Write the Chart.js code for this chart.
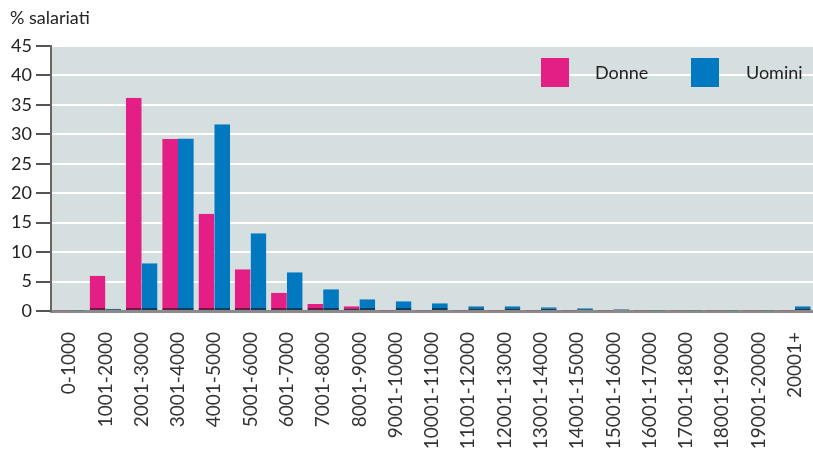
<!DOCTYPE html>
<html><head><meta charset="utf-8">
<script src="https://cdn.jsdelivr.net/npm/chart.js@4.4.1/dist/chart.umd.min.js"></script>
<style>html,body{margin:0;padding:0;background:#fff}#wrap{width:813px;height:450px;position:relative}</style>
</head><body><div id="wrap"><canvas id="c" width="813" height="450"></canvas></div>
<script>
const categories = ["0-1000","1001-2000","2001-3000","3001-4000","4001-5000","5001-6000","6001-7000","7001-8000","8001-9000","9001-10000","10001-11000","11001-12000","12001-13000","13001-14000","14001-15000","15001-16000","16001-17000","17001-18000","18001-19000","19001-20000","20001+"];
const donne  = [0.1, 6.0, 36.2, 29.2, 16.5, 7.1, 3.1, 1.2, 0.8, 0.1, 0.1, 0.1, 0.1, 0.1, 0.1, 0.1, 0.1, 0.1, 0.1, 0.1, 0.1];
const uomini = [0.1, 0.4, 8.1, 29.3, 31.7, 13.2, 6.6, 3.7, 2.0, 1.65, 1.3, 0.8, 0.8, 0.65, 0.45, 0.3, 0.1, 0.1, 0.1, 0.1, 0.8];
const yTicks = [0,5,10,15,20,25,30,35,40,45];
const seriesNames = ["Donne","Uomini"];
const colors = ["#e31f86","#0079c1"];
const baseColors = ["#6e1a45","#123c5c"];
const FONT = "Lato";

const bgPlugin = {
  id:'bg',
  beforeDraw(chart){
    const {ctx, chartArea:a} = chart;
    ctx.save(); ctx.fillStyle = '#d6dfdf';
    ctx.fillRect(a.left, a.top, a.right-a.left, a.bottom-a.top);
    ctx.restore();
  },
  afterDraw(chart){
    const {ctx, chartArea:a} = chart;
    ctx.save();
    ctx.fillStyle = '#222';
    ctx.font = `18px ${FONT}`;
    ctx.textBaseline = 'alphabetic';
    ctx.textAlign = 'left';
    ctx.fillText('% salariati', 10, 24);
    const items = [{x:a.left+490, tx:a.left+544},{x:a.left+640, tx:a.left+695}];
    chart.data.datasets.forEach((ds,i)=>{
      ctx.fillStyle = ds.backgroundColor;
      ctx.fillRect(items[i].x, a.top+12, 28, 29);
      ctx.fillStyle = '#222';
      ctx.fillText(ds.label, items[i].tx, a.top+33);
    });
    ctx.restore();
  }
};

new Chart(document.getElementById('c'), {
  type:'bar',
  data:{
    labels: categories,
    datasets:[
      {label:seriesNames[0], data:donne, backgroundColor:colors[0], borderColor:baseColors[0], borderWidth:{top:0,left:0,right:0,bottom:2}, borderSkipped:false, categoryPercentage:0.87, barPercentage:1.0},
      {label:seriesNames[1], data:uomini, backgroundColor:colors[1], borderColor:baseColors[1], borderWidth:{top:0,left:0,right:0,bottom:2}, borderSkipped:false, categoryPercentage:0.87, barPercentage:1.0}
    ]
  },
  options:{
    responsive:false, animation:false,
    layout:{padding:{top:46,left:0,right:0,bottom:0}},
    plugins:{legend:{display:false}, tooltip:{enabled:false}},
    scales:{
      x:{
        grid:{display:false, drawTicks:false},
        border:{display:true, color:'#8a8a8a', width:3},
        ticks:{minRotation:90, maxRotation:90, autoSkip:false, color:'#333', font:{family:FONT, size:19}, padding:21},
        afterFit(s){ s.height = 139; s.paddingLeft = 0; s.paddingRight = 0; }
      },
      y:{
        min:0, max:45,
        afterBuildTicks(s){ s.ticks = yTicks.map(v=>({value:v})); },
        grid:{color:'#ffffff', lineWidth:2, tickColor:'#555', tickLength:15, drawOnChartArea:true},
        border:{display:true, color:'#666', width:2},
        ticks:{color:'#222', font:{family:FONT, size:18}, padding:4},
        afterFit(s){ s.width = 51; s.paddingTop = 0; s.paddingBottom = 0; }
      }
    }
  },
  plugins:[bgPlugin]
});
</script></body></html>
